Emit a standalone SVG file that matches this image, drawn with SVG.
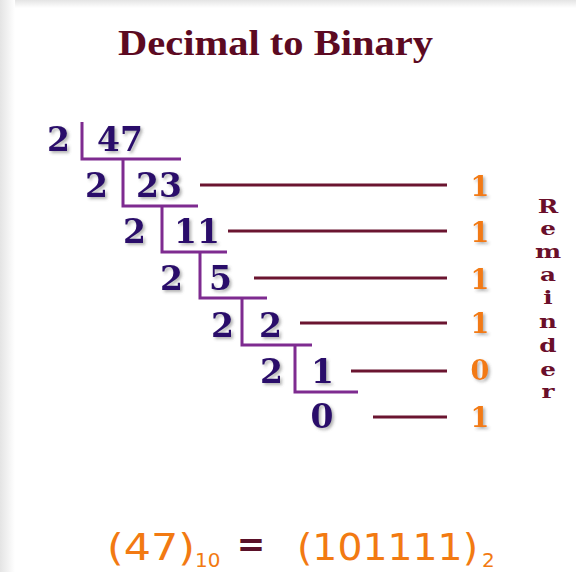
<svg xmlns="http://www.w3.org/2000/svg" width="576" height="572" viewBox="0 0 576 572">
<defs>
<linearGradient id="gTop" x1="0" y1="0" x2="0" y2="1"><stop offset="0" stop-color="#e4e4e4"/><stop offset="1" stop-color="#ffffff"/></linearGradient>
<linearGradient id="gLeft" x1="0" y1="0" x2="1" y2="0"><stop offset="0" stop-color="#e4e4e4"/><stop offset="1" stop-color="#ffffff"/></linearGradient>
<filter id="sh" x="-20%" y="-20%" width="150%" height="150%"><feDropShadow dx="2" dy="2" stdDeviation="1.5" flood-color="#555" flood-opacity="0.45"/></filter>
</defs>
<style>
.num{font-family:"DejaVu Serif","Liberation Serif",serif;font-weight:bold;font-size:33px;fill:#2c0f6b;filter:url(#sh)}
.rem{font-family:"DejaVu Serif","Liberation Serif",serif;font-weight:bold;font-size:27px;fill:#f27a12;text-anchor:middle;filter:url(#sh)}
.lab{font-family:"DejaVu Serif","Liberation Serif",serif;font-weight:bold;font-size:19px;fill:#6a0f2a;text-anchor:middle}
.br{fill:none;stroke:#7e2b90;stroke-width:3}
.ln{stroke:#6b1530;stroke-width:3}
.frm{font-family:"DejaVu Sans","Liberation Sans",sans-serif;fill:#f27a12}
</style>
<rect width="576" height="572" fill="#ffffff"/>
<rect x="0" y="0" width="576" height="8" fill="url(#gTop)"/>
<rect x="0" y="0" width="15" height="572" fill="url(#gLeft)"/>
<rect x="15" y="8" width="561" height="564" fill="#ffffff"/>

<g id="title"><text x="118" y="55" font-family="'Liberation Serif',serif" font-weight="bold" font-size="35" fill="#5c0a22" textLength="315" lengthAdjust="spacingAndGlyphs">Decimal to Binary</text></g>

<g id="connectors">
<path class="br" d="M82,122 V159 H181 M123,159 V206 H198 M162,206 V252 H227 M200,252 V298 H267 M242,298 V345 H312 M295,345 V392 H358"/>
<line class="ln" x1="200" y1="185" x2="447" y2="185"/>
<line class="ln" x1="228" y1="231" x2="447" y2="231"/>
<line class="ln" x1="254" y1="278" x2="447" y2="278"/>
<line class="ln" x1="300" y1="323" x2="447" y2="323"/>
<line class="ln" x1="351" y1="371" x2="447" y2="371"/>
<line class="ln" x1="373" y1="417" x2="447" y2="417"/>
</g>

<g id="row1"><text class="num" x="70" y="151" text-anchor="end">2</text><text class="num" x="97" y="151">47</text></g>
<g id="row2"><text class="num" x="108" y="197" text-anchor="end">2</text><text class="num" x="136" y="197">23</text></g>
<g id="row3"><text class="num" x="146" y="243" text-anchor="end">2</text><text class="num" x="174" y="243">11</text></g>
<g id="row4"><text class="num" x="183" y="290" text-anchor="end">2</text><text class="num" x="209" y="290">5</text></g>
<g id="row5"><text class="num" x="234" y="337" text-anchor="end">2</text><text class="num" x="259" y="337">2</text></g>
<g id="row6"><text class="num" x="283" y="383" text-anchor="end">2</text><text class="num" x="311" y="383">1</text></g>
<g id="row7"><text class="num" x="322" y="428" text-anchor="middle">0</text></g>

<g id="remainders">
<text class="rem" x="480" y="196">1</text>
<text class="rem" x="480" y="242">1</text>
<text class="rem" x="480" y="289">1</text>
<text class="rem" x="480" y="333">1</text>
<text class="rem" x="480" y="380">0</text>
<text class="rem" x="480" y="427">1</text>
</g>

<g id="remainder-label">
<text class="lab" transform="translate(548,213) scale(1.3,1)">R</text>
<text class="lab" transform="translate(548,235) scale(1.3,1)">e</text>
<text class="lab" transform="translate(548,258) scale(1.3,1)">m</text>
<text class="lab" transform="translate(548,281) scale(1.3,1)">a</text>
<text class="lab" transform="translate(548,304) scale(1.3,1)">i</text>
<text class="lab" transform="translate(548,328) scale(1.3,1)">n</text>
<text class="lab" transform="translate(548,352) scale(1.3,1)">d</text>
<text class="lab" transform="translate(548,376) scale(1.3,1)">e</text>
<text class="lab" transform="translate(548,398) scale(1.3,1)">r</text>
</g>

<g id="result">
<text class="frm" x="107" y="560" font-size="38" textLength="88" lengthAdjust="spacingAndGlyphs">(47)</text>
<text class="frm" x="195" y="567" font-size="20">10</text>
<text x="251" y="556" font-family="'DejaVu Sans',sans-serif" font-weight="bold" font-size="34" fill="#5a1028" text-anchor="middle">=</text>
<text class="frm" x="297" y="560" font-size="38" textLength="181" lengthAdjust="spacingAndGlyphs">(101111)</text>
<text class="frm" x="482" y="567" font-size="20">2</text>
</g>
</svg>
